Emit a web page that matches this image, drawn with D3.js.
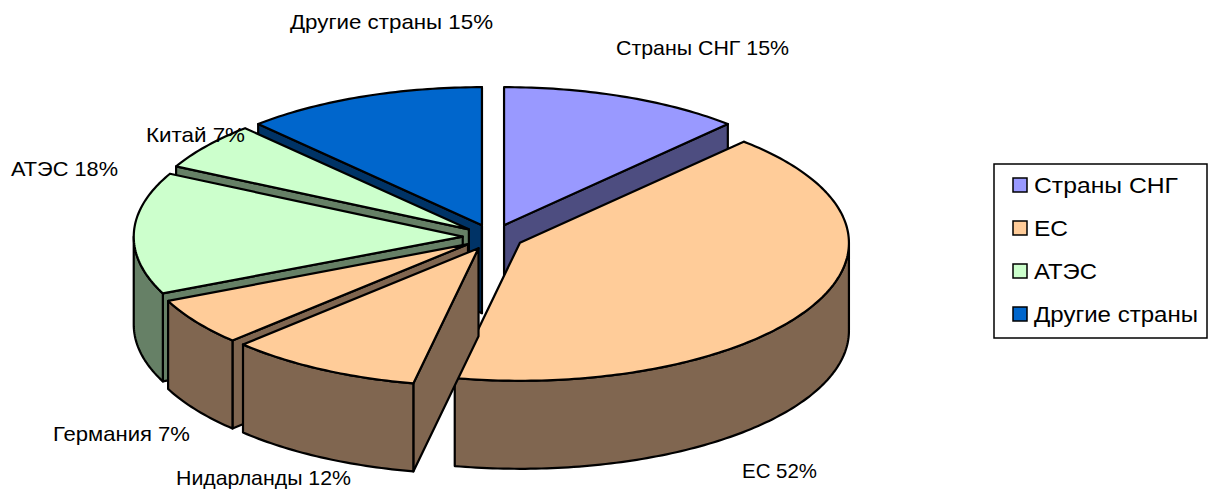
<!DOCTYPE html>
<html>
<head>
<meta charset="utf-8">
<script src="https://cdnjs.cloudflare.com/ajax/libs/d3/7.8.5/d3.min.js"></script>
<style>
  html, body { margin: 0; padding: 0; background: #fff; }
  svg { display: block; }
  text { font-family: "Liberation Sans", Arial, sans-serif; font-size: 21px; fill: #000; }
  .legend-label { font-size: 22px; }
</style>
</head>
<body>
<svg id="chart"></svg>
<script>
const sliceNames = ["Страны СНГ", "ЕС", "Нидарланды", "Германия", "АТЭС", "Китай", "Другие страны"];
const sliceValues = [15, 52, 12, 7, 18, 7, 15];
const sliceGroups = ["Страны СНГ", "ЕС", "ЕС", "ЕС", "АТЭС", "АТЭС", "Другие страны"];

const legendNames = ["Страны СНГ", "ЕС", "АТЭС", "Другие страны"];
const legendColors = ["#9999ff", "#ffcc99", "#ccffcc", "#0066cc"];
const wallColors = ["#4d4d80", "#806650", "#668066", "#003366"];

// label placement and measured text widths, same order as sliceNames
const labelX = [616, 742, 176, 53, 11, 146, 290];
const labelY = [55, 478, 485, 441, 176, 142, 29];
const labelWidth = [173, 75, 175, 137, 107, 99, 203];
const legendWidth = [144, 34, 63, 164];

var width = 1213;
var height = 491;

var svg = d3.select("#chart").attr("width", width).attr("height", height);

var cx = 493, cy = 237;   // pie centre before the slices are pulled out
var rx = 329, ry = 138;
var depth = 88;
var explode = 0.092;

var top_ = d3.scaleOrdinal().domain(legendNames).range(legendColors);
var wall = d3.scaleOrdinal().domain(legendNames).range(wallColors);

var pie = d3.pie().sort(null).value(d => d.value);
var slices = pie(sliceNames.map((name, i) => ({
  name: name,
  value: sliceValues[i],
  group: sliceGroups[i]
})));

// angles go clockwise from 12 o'clock, squashed into an ellipse
const px = (a, c) => c.x + rx * Math.sin(a);
const py = (a, c) => c.y - ry * Math.cos(a);

const line = d3.line().x(d => d[0]).y(d => d[1]);

const arcPoints = (a0, a1, c, dy) => {
  const n = Math.max(2, Math.ceil((a1 - a0) * 60));
  return d3.range(n + 1).map(i => {
    const a = a0 + ((a1 - a0) * i) / n;
    return [px(a, c), py(a, c) + dy];
  });
};

const wallPath = (c, a) =>
  line([
    [c.x, c.y],
    [px(a, c), py(a, c)],
    [px(a, c), py(a, c) + depth],
    [c.x, c.y + depth]
  ]) + "Z";

slices.forEach(s => {
  s.mid = (s.startAngle + s.endAngle) / 2;
  s.c = {
    x: cx + explode * rx * Math.sin(s.mid),
    y: cy - explode * ry * Math.cos(s.mid)
  };
});

// back slices first so the front ones cover them
var ordered = slices.slice().sort((a, b) => Math.cos(b.mid) - Math.cos(a.mid));

var g = svg
  .append("g")
  .attr("stroke", "#000")
  .attr("stroke-width", 2.2)
  .attr("stroke-linejoin", "round");

ordered.forEach(s => {
  const c = s.c;
  const wallFill = wall(s.data.group);

  // cut faces, only the ones turned towards the viewer
  if (Math.sin(s.startAngle) < 0) {
    g.append("path").attr("d", wallPath(c, s.startAngle)).attr("fill", wallFill);
  }
  if (Math.sin(s.endAngle) > 0) {
    g.append("path").attr("d", wallPath(c, s.endAngle)).attr("fill", wallFill);
  }

  // outer rim, front half of the ellipse only
  const a0 = Math.max(s.startAngle, Math.PI / 2);
  const a1 = Math.min(s.endAngle, (3 * Math.PI) / 2);
  if (a1 > a0) {
    const upper = arcPoints(a0, a1, c, 0);
    const lower = arcPoints(a0, a1, c, depth).reverse();
    g.append("path").attr("d", line(upper.concat(lower)) + "Z").attr("fill", wallFill);
  }

  // top face
  const face = [[c.x, c.y]].concat(arcPoints(s.startAngle, s.endAngle, c, 0));
  g.append("path").attr("d", line(face) + "Z").attr("fill", top_(s.data.group));
});

// data labels
svg
  .append("g")
  .selectAll("text")
  .data(slices)
  .join("text")
  .attr("x", (d, i) => labelX[i])
  .attr("y", (d, i) => labelY[i])
  .attr("textLength", (d, i) => labelWidth[i])
  .attr("lengthAdjust", "spacingAndGlyphs")
  .text(d => `${d.data.name} ${d.data.value}%`);

// legend
var legendY = d3.scalePoint().domain(legendNames).range([185, 314]);

svg
  .append("rect")
  .attr("x", 994)
  .attr("y", 164)
  .attr("width", 213)
  .attr("height", 174)
  .attr("fill", "#fff")
  .attr("stroke", "#000")
  .attr("stroke-width", 1.5);

var row = svg
  .append("g")
  .selectAll("g")
  .data(legendNames)
  .join("g")
  .attr("transform", d => `translate(1012, ${legendY(d)})`);

row
  .append("rect")
  .attr("x", 1)
  .attr("y", -7)
  .attr("width", 14)
  .attr("height", 14)
  .attr("fill", d => top_(d))
  .attr("stroke", "#000")
  .attr("stroke-width", 1.5);

row
  .append("text")
  .attr("class", "legend-label")
  .attr("x", 22)
  .attr("y", 8)
  .attr("textLength", (d, i) => legendWidth[i])
  .attr("lengthAdjust", "spacingAndGlyphs")
  .text(d => d);
</script>
</body>
</html>
